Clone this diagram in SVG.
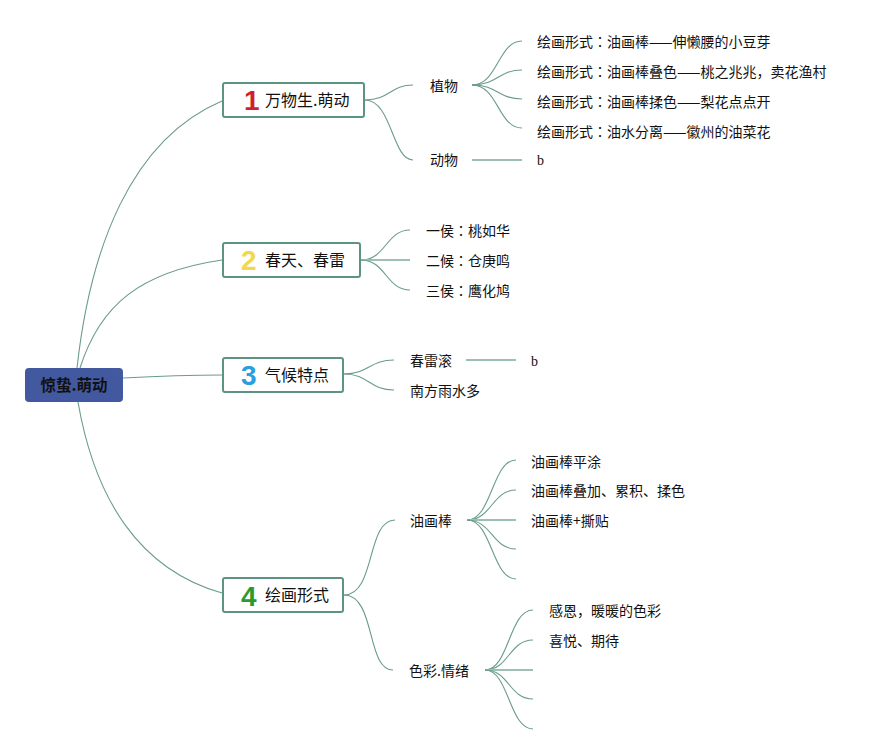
<svg xmlns="http://www.w3.org/2000/svg" width="891" height="755" viewBox="0 0 891 755">
<style>
.bg{fill:#ffffff}
.ln{fill:none;stroke:#6a9c8a;stroke-width:1.1}
.hl{fill:none;stroke:#9cc0b3;stroke-width:2}
.box{fill:#ffffff;stroke:#5d9383;stroke-width:2}
.root{fill:#42599f}
.rt{font-family:"Noto Sans CJK SC","Noto Sans",sans-serif;font-size:15.5px;font-weight:bold;fill:#111111}
.bt{font-family:"Noto Sans CJK SC","Noto Sans",sans-serif;font-size:16px;fill:#111111}
.st{font-family:"Noto Sans CJK SC","Noto Sans",sans-serif;font-size:14px;fill:#111111}
.c{font-family:"Noto Sans CJK TC","Noto Sans CJK SC",sans-serif}
.b{font-family:"Liberation Serif",serif;font-size:14px;fill:#111111}
.num{font-family:"Liberation Sans",Arial,sans-serif;font-size:28px;font-weight:bold}
</style>
<rect class="bg" x="0" y="0" width="891" height="755"/>
<g id="connectors">
  <path class="ln" d="M77,368 C90,250 130,140 222,101"/>
  <path class="ln" d="M80,368 C100,305 140,272 222,260"/>
  <path class="ln" d="M123,378 C160,376 190,375 222,375"/>
  <path class="ln" d="M78,402 C95,500 140,570 222,593"/>
  <path class="ln" d="M365,100 C390,100 390,85 413,85"/>
  <path class="ln" d="M365,100 C392,100 392,160 413,160"/>
  <path class="ln" d="M472,85 C498,85 498,41 522,41"/>
  <path class="ln" d="M472,85 C498,85 498,70 522,70"/>
  <path class="ln" d="M472,85 C498,85 498,99 522,99"/>
  <path class="ln" d="M472,85 C498,85 498,128 522,128"/>
  <path class="hl" d="M472,160 L522,160"/>
  <path class="ln" d="M361,260 C386,260 386,230 410,230"/>
  <path class="hl" d="M361,260 L410,260"/>
  <path class="ln" d="M361,260 C386,260 386,290 410,290"/>
  <path class="ln" d="M344,374 C369,374 369,360 394,360"/>
  <path class="ln" d="M344,374 C369,374 369,390 394,390"/>
  <path class="hl" d="M466,360 L516,360"/>
  <path class="ln" d="M344,595 C376,595 366,520 395,520"/>
  <path class="ln" d="M344,595 C376,595 366,670 393,670"/>
  <path class="ln" d="M467,520 C492,520 492,460 516,460"/>
  <path class="ln" d="M467,520 C492,520 492,490 516,490"/>
  <path class="hl" d="M467,520 L516,520"/>
  <path class="ln" d="M467,520 C492,520 492,549 516,549"/>
  <path class="ln" d="M467,520 C492,520 492,579 516,579"/>
  <path class="ln" d="M485,670 C509,670 509,610 533,610"/>
  <path class="ln" d="M485,670 C509,670 509,640 533,640"/>
  <path class="hl" d="M485,670 L533,670"/>
  <path class="ln" d="M485,670 C509,670 509,699 533,699"/>
  <path class="ln" d="M485,670 C509,670 509,729 533,729"/>
</g>
<g id="root">
  <rect class="root" x="25" y="368" width="98" height="34" rx="4"/>
  <text class="rt" x="74" y="391" text-anchor="middle">惊蛰.萌动</text>
</g>
<g id="n1">
  <rect class="box" x="223" y="83" width="141" height="34" rx="2"/>
  <text class="num" x="244" y="110" fill="#d21f2f">1</text>
  <text class="bt" x="265" y="106">万物生.萌动</text>
</g>
<g id="n2">
  <rect class="box" x="223" y="243" width="137" height="34" rx="2"/>
  <text class="num" x="241" y="270" fill="#f1d84c">2</text>
  <text class="bt" x="265" y="266">春天、春雷</text>
</g>
<g id="n3">
  <rect class="box" x="223" y="358" width="120" height="34" rx="2"/>
  <text class="num" x="241" y="385" fill="#2b9de1">3</text>
  <text class="bt" x="265" y="381">气候特点</text>
</g>
<g id="n4">
  <rect class="box" x="223" y="578" width="120" height="34" rx="2"/>
  <text class="num" x="241" y="606" fill="#2c9a2d">4</text>
  <text class="bt" x="265" y="601">绘画形式</text>
</g>
<g id="n1-plant"><text class="st" x="430" y="91">植物</text></g>
<g id="n1-animal"><text class="st" x="430" y="165">动物</text></g>
<g id="n1-p1"><text class="st" x="537" y="47">绘画形式<tspan class="c">：</tspan>油画棒——伸懒腰的小豆芽</text></g>
<g id="n1-p2"><text class="st" x="537" y="77">绘画形式<tspan class="c">：</tspan>油画棒叠色——桃之兆兆，卖花渔村</text></g>
<g id="n1-p3"><text class="st" x="537" y="107">绘画形式<tspan class="c">：</tspan>油画棒揉色——梨花点点开</text></g>
<g id="n1-p4"><text class="st" x="537" y="137">绘画形式<tspan class="c">：</tspan>油水分离——徽州的油菜花</text></g>
<g id="n1-b"><text class="b" x="537" y="165">b</text></g>
<g id="n2-1"><text class="st" x="426" y="236">一侯<tspan class="c">：</tspan>桃如华</text></g>
<g id="n2-2"><text class="st" x="426" y="266">二候<tspan class="c">：</tspan>仓庚鸣</text></g>
<g id="n2-3"><text class="st" x="426" y="296">三侯<tspan class="c">：</tspan>鹰化鸠</text></g>
<g id="n3-1"><text class="st" x="410" y="366">春雷滚</text></g>
<g id="n3-b"><text class="b" x="531" y="366">b</text></g>
<g id="n3-2"><text class="st" x="410" y="396">南方雨水多</text></g>
<g id="n4-oil"><text class="st" x="410" y="526">油画棒</text></g>
<g id="n4-o1"><text class="st" x="531" y="467">油画棒平涂</text></g>
<g id="n4-o2"><text class="st" x="531" y="496">油画棒叠加、累积、揉色</text></g>
<g id="n4-o3"><text class="st" x="531" y="526">油画棒+撕贴</text></g>
<g id="n4-color"><text class="st" x="409" y="676">色彩.情绪</text></g>
<g id="n4-c1"><text class="st" x="549" y="616">感恩，暖暖的色彩</text></g>
<g id="n4-c2"><text class="st" x="549" y="646">喜悦、期待</text></g>
</svg>
